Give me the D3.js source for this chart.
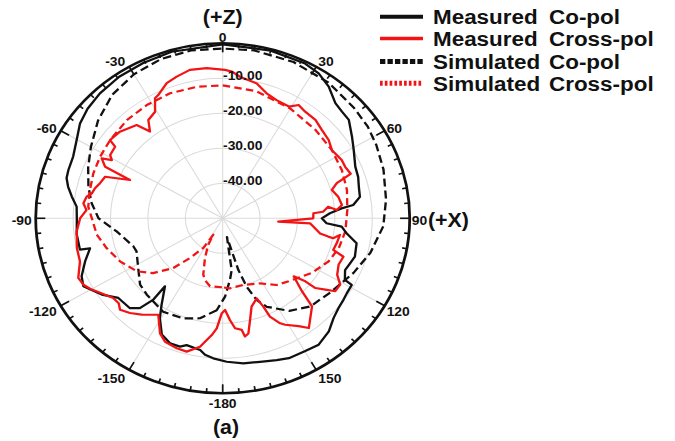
<!DOCTYPE html>
<html>
<head>
<meta charset="utf-8">
<script src="https://cdn.jsdelivr.net/npm/d3@7"></script>
<style>
body { margin: 0; background: #fff; }
text { font-family: Arial, "Liberation Sans", sans-serif; font-weight: bold; fill: #111; }
</style>
</head>
<body>
<script>
// [angle in degrees, gain in dB], in drawing order
var measuredCoPol = [
  [-176.4,-9.9],[-173.1,-10.7],[-170.9,-11.9],[-165.1,-12.5],[-162.7,-11.6],[-158.5,-11.6],
  [-153.9,-13.0],[-149.5,-16.9],[-146.5,-20.4],[-141.5,-25.2],[-141.4,-20.3],[-139.2,-16.1],
  [-136.0,-14.3],[-129.2,-14.0],[-124.0,-11.0],[-117.5,-8.0],[-113.7,-8.8],[-108.5,-11.2],
  [-103.6,-13.5],[-103.2,-10.8],[-96.8,-10.7],[-89.9,-11.0],[-85.1,-10.8],[-81.3,-9.2],
  [-77.7,-7.7],[-74.6,-6.7],[-71.5,-6.5],[-66.2,-6.3],[-60.2,-5.0],[-54.6,-3.2],[-49.1,-2.2],
  [-42.6,-1.5],[-34.4,-1.0],[-25.6,-0.8],[-16,-0.5],[0,-0.3],[15,-0.4],[26.5,-0.6],
  [31.8,-1.3],[37,-2.9],[42.5,-5.4],[46.3,-5.9],[50.2,-6.1],[56,-8.3],[60.9,-9.9],
  [67.4,-11.6],[71.9,-11.9],[76.1,-12.5],[80.5,-12.8],[83.8,-14.9],[84.9,-18.1],
  [87.1,-21.3],[90,-23.5],[92.9,-22.2],[94.3,-18.1],[97.4,-16.6],[101.3,-13.5],
  [107.2,-13.0],[110.7,-13.6],[114.3,-14.1],[118.3,-12.9],[118.9,-10.6],[122.9,-10.5],
  [125.7,-10.2],[129.6,-9.8],[133.8,-8.9],[138.7,-7.0],[144.6,-5.7],[149.8,-6.1],
  [156.1,-6.3],[160.4,-7.0],[166.3,-7.8],[172.4,-8.2],[178.5,-9.0]
];

var measuredCrossPol = [
  [-179.5,-22.9],[-177.1,-18.5],[-175,-16.5],[-170.6,-12.8],[-165.8,-10.7],[-161.7,-10.9],
  [-156.4,-11.5],[-153,-13.1],[-148,-17.5],[-141.8,-15],[-137.5,-13.3],[-133.6,-12.1],
  [-131.1,-13.1],[-127.9,-12.9],[-123,-10.9],[-120.2,-9.5],[-117,-8.2],[-113.8,-7.8],
  [-107.9,-9.9],[-102.3,-10.1],[-95.4,-10.8],[-89.9,-11.9],[-86.3,-13.5],[-83.4,-12.5],
  [-80.4,-13.1],[-78.5,-14.3],[-75.9,-14.8],[-73,-15.7],[-69.3,-16.4],[-66.2,-22.9],
  [-64.9,-15.3],[-62.1,-13.4],[-60.7,-16],[-59,-14.9],[-54.6,-14.7],[-53.4,-12.5],
  [-48,-13],[-40.8,-14.8],[-38.1,-18.5],[-35.3,-15.6],[-30.7,-14.6],[-27.8,-11.2],
  [-26.1,-10.8],[-21.2,-8.6],[-16.9,-7.7],[-11.7,-6.7],[-5.7,-6.9],[0.8,-7.6],[3.4,-8.0],
  [6.5,-9.3],[13.3,-10.4],[18.2,-12.4],[23.1,-13.3],[29,-13.5],[32.1,-11.8],[35.9,-12.4],
  [41.4,-12.5],[46.5,-13.4],[51.7,-13.9],[56.3,-14.9],[62.4,-14.1],[65.8,-14.1],[69.6,-13.5],
  [71.8,-17.9],[74.5,-19.7],[78.7,-18.5],[83.2,-17.9],[85.6,-19.4],[83.3,-21.6],[86,-23.1],
  [86.6,-25.7],[90,-25.8],[93.7,-35.1],[93.5,-26.6],[99.4,-23.6],[100.5,-21.3],[100.9,-19.9],
  [98.6,-18.3],[103.2,-18.7],[107,-19.1],[108.8,-15.9],[113.1,-16.3],[117.8,-15.4],
  [121.1,-13.3],[124.7,-13.4],[126.6,-15.8],[128.8,-18.2],[129.2,-21.5],[131.1,-24.8],
  [134.5,-20.3],[136.5,-15.3],[140.6,-13.1],[143.7,-11.1],[146.6,-13.1],[151.2,-15.3],
  [152.9,-16.3],[155.8,-19.2],[156.7,-22.5],[158.3,-25.4],[163,-23.6],[165.9,-20],
  [168.2,-16.4],[170,-15.7],[170.9,-17.7],[174,-18.4],[176.2,-20.9],[178.6,-23.8]
];

var simulatedCoPol = [
  [-176.5,-23.7],[-168,-20.8],[-159.7,-19.5],[-149.2,-18.9],[-137.1,-20.2],[-130.6,-20.9],
  [-122.2,-23.3],[-112.3,-25.1],[-108.5,-24.8],[-97.5,-21.4],[-90,-16.8],[-83,-14.7],
  [-76,-13.0],[-68,-11.2],[-60,-9.3],[-50,-6.5],[-40,-4.0],[-30,-2.5],[-20,-1.6],
  [-10,-1.3],[0,-1.5],[10,-1.3],[23,-1.5],[36,-2.0],[48,-2.8],[56,-3.2],[63,-3.9],
  [72,-4.8],[83,-6.0],[93,-7.0],[104,-9.3],[114,-11.7],[126,-14.2],[137,-15.6],
  [146,-18.1],[155,-22.1],[158.7,-24.9],[161.8,-29.4],[164.2,-34.7],[168,-44.5],
  [170.8,-35.0],[173.7,-32.3],[178.4,-27.6]
];

var simulatedCrossPol = [
  [-179.4,-30.3],[-170.1,-30.3],[-165,-31.7],[-162.1,-33.1],[-157.3,-37.7],[-152.9,-41.5],
  [-151.8,-44.7],[-148.5,-40.1],[-142.4,-35.7],[-137.1,-30.6],[-130.1,-25.7],[-123.4,-22.5],
  [-114.1,-19.9],[-105.3,-17.8],[-97.9,-16.0],[-89.9,-15.0],[-84.7,-13.9],[-77.2,-13.6],
  [-69.6,-13.1],[-61.8,-12.8],[-53.4,-12.5],[-42.4,-12.0],[-32.1,-11.8],[-21.5,-11.6],
  [-10.5,-11.8],[0,-12.0],[14,-12.6],[30,-13.8],[44.5,-14.6],[56.3,-14.9],[66.6,-15.3],
  [76.3,-15.8],[86,-16.6],[96.5,-17.0],[105.3,-17.8],[113.4,-19.1],[123.2,-21.5],
  [135.5,-24.8],[142.9,-26.1],[151.8,-28.9],[163.9,-30.2],[174.5,-29.9]
];

var angleTicks = [0, 30, 60, 90, 120, 150, 180, -150, -120, -90, -60, -30];
var angleLabels = ["0", "30", "60", "90", "120", "150", "-180", "-150", "-120", "-90", "-60", "-30"];
var ringValues = [-40, -30, -20, -10];
var ringLabels = ["-40.00", "-30.00", "-20.00", "-10.00"];
var legendFirst = ["Measured", "Measured", "Simulated", "Simulated"];
var legendSecond = ["Co-pol", "Cross-pol", "Co-pol", "Cross-pol"];

// the picture is stretched sideways, so draw a circle in a squeezed viewBox
var sx = 1.0686;
var W = 675, H = 441;
var cx = 222.7 / sx, cy = 218.3, R = 175;
var red = "#f21414";

var svg = d3.select("body").append("svg")
    .attr("width", W).attr("height", H)
    .attr("viewBox", "0 0 " + (W / sx) + " " + H)
    .attr("preserveAspectRatio", "none");

var r = d3.scaleLinear().domain([-50, 0]).range([0, R]);
var rad = function(a) { return a * Math.PI / 180; };

var g = svg.append("g").attr("transform", "translate(" + cx + "," + cy + ")");

// grid
g.selectAll(".ring").data(ringValues).enter().append("circle")
    .attr("r", function(d) { return r(d); })
    .attr("fill", "none").attr("stroke", "#dadada").attr("stroke-width", 1);

g.selectAll(".spoke").data(d3.range(0, 360, 30)).enter().append("line")
    .attr("x1", 0).attr("y1", 0)
    .attr("x2", function(d) { return R * Math.sin(rad(d)); })
    .attr("y2", function(d) { return -R * Math.cos(rad(d)); })
    .attr("stroke", "#dadada").attr("stroke-width", 1);

// curves
var line = d3.lineRadial()
    .angle(function(d) { return rad(d[0]); })
    .radius(function(d) { return r(d[1]); })
    .curve(d3.curveLinearClosed);

function drawSeries(data, color, dash) {
    g.append("path")
        .attr("d", line(data))
        .attr("fill", "none")
        .attr("stroke", color)
        .attr("stroke-width", 2.2)
        .attr("stroke-linejoin", "round")
        .attr("stroke-dasharray", dash);
}
drawSeries(simulatedCoPol, "#111", "8,4");
drawSeries(simulatedCrossPol, red, "7,4");
drawSeries(measuredCoPol, "#111", null);
drawSeries(measuredCrossPol, red, null);

// outer circle and ticks
g.append("circle").attr("r", R).attr("fill", "none").attr("stroke", "#111").attr("stroke-width", 2.6);

g.selectAll(".tick").data(d3.range(0, 360, 5)).enter().append("line")
    .attr("x1", function(d) { return R * Math.sin(rad(d)); })
    .attr("y1", function(d) { return -R * Math.cos(rad(d)); })
    .attr("x2", function(d) { var l = d % 30 == 0 ? 9 : 4.5; return (R - l) * Math.sin(rad(d)); })
    .attr("y2", function(d) { var l = d % 30 == 0 ? 9 : 4.5; return -(R - l) * Math.cos(rad(d)); })
    .attr("stroke", "#111").attr("stroke-width", 1.6);

// ring labels
g.selectAll(".rlab").data(ringValues).enter().append("text")
    .attr("x", 0.3)
    .attr("y", function(d) { return -r(d) + 1.5; })
    .attr("font-size", 13)
    .text(function(d, i) { return ringLabels[i]; });

// angle labels
g.selectAll(".alab").data(angleTicks).enter().append("text")
    .attr("font-size", 13)
    .attr("text-anchor", function(d) {
        var s = Math.round(Math.sin(rad(d)) * 1000);
        return s == 0 ? "middle" : (s > 0 ? "start" : "end");
    })
    .attr("x", function(d) {
        var s = Math.round(Math.sin(rad(d)) * 1000);
        var x = R * Math.sin(rad(d));
        return s == 0 ? x : (s > 0 ? x + 2 / sx : x - 4 / sx);
    })
    .attr("y", function(d) { return -R * Math.cos(rad(d)) - Math.cos(rad(d)) * 8 + 2 + 4.6; })
    .text(function(d, i) { return angleLabels[i]; });

// axis names
svg.append("text").attr("x", 222.7 / sx).attr("y", 24).attr("text-anchor", "middle")
    .attr("font-size", 20).text("(+Z)");
svg.append("text").attr("x", 428 / sx).attr("y", 227).attr("font-size", 20).text("(+X)");
svg.append("text").attr("x", 226 / sx).attr("y", 434).attr("text-anchor", "middle")
    .attr("font-size", 20).text("(a)");

// legend
var legendY = [16.7, 38.5, 61.5, 83.3];
var sampleColor = ["#111", red, "#111", red];
var sampleWidth = [4, 3.5, 5, 5];
var sampleDash = [null, null, "5,2", "2.5,2"];
var leg = svg.append("g");
legendY.forEach(function(y, i) {
    leg.append("line")
        .attr("x1", 380 / sx).attr("x2", 423 / sx)
        .attr("y1", y).attr("y2", y)
        .attr("stroke", sampleColor[i])
        .attr("stroke-width", sampleWidth[i])
        .attr("stroke-dasharray", sampleDash[i]);
    leg.append("text").attr("x", 433 / sx).attr("y", y + 7.5)
        .attr("font-size", 21).text(legendFirst[i]);
    leg.append("text").attr("x", 549 / sx).attr("y", y + 7.5)
        .attr("font-size", 21).text(legendSecond[i]);
});
</script>
</body>
</html>
